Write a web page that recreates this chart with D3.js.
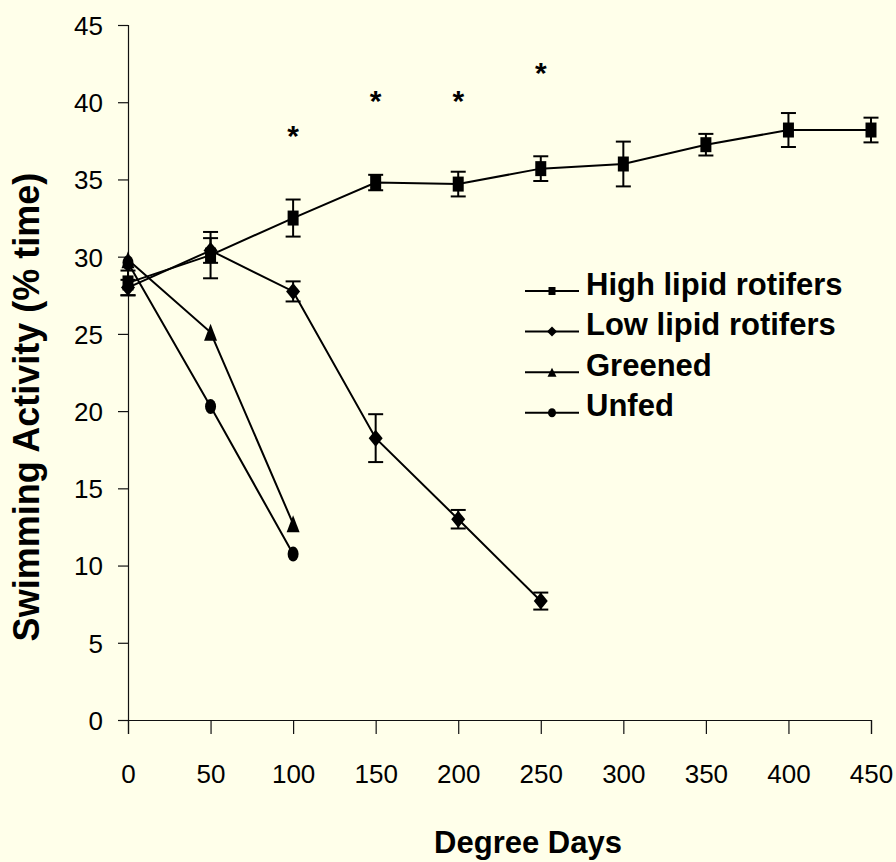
<!DOCTYPE html>
<html>
<head>
<meta charset="utf-8">
<script src="https://cdn.jsdelivr.net/npm/d3@7"></script>
<style>
  html, body { margin: 0; padding: 0; background: #FFFFEA; }
  svg { display: block; }
  text { font-family: Arial, "Liberation Sans", Helvetica, sans-serif; fill: #000; }
</style>
</head>
<body>
<svg id="chart" width="896" height="862"></svg>
<script>
// ---- data ----
const xTickValues = [0, 50, 100, 150, 200, 250, 300, 350, 400, 450];
const yTickValues = [0, 5, 10, 15, 20, 25, 30, 35, 40, 45];

const highDays = [0, 50, 100, 150, 200, 250, 300, 350, 400, 450];
const highLipid = [28.3, 30.1, 32.5, 34.8, 34.7, 35.7, 36.0, 37.25, 38.2, 38.2];
const highLipidErr = [0.8, 1.5, 1.2, 0.5, 0.8, 0.8, 1.45, 0.7, 1.1, 0.8];

const lowDays = [0, 50, 100, 150, 200, 250];
const lowLipid = [28.0, 30.4, 27.75, 18.25, 13.0, 7.7];
const lowLipidErr = [0.5, 0.8, 0.65, 1.55, 0.6, 0.55];

const greenedDays = [0, 50, 100];
const greened = [29.8, 25.1, 12.7];

const unfedDays = [0, 50, 100];
const unfed = [29.6, 20.3, 10.75];

const starDays = [100, 150, 200, 250];
const starLevels = [38.0, 40.3, 40.3, 42.1];

const legendLabels = ["High lipid rotifers", "Low lipid rotifers", "Greened", "Unfed"];
const markerTypes = ["square", "diamond", "triangle", "circle"];

// ---- layout ----
const svg = d3.select("#chart");
const x = d3.scaleLinear().domain([0, 450]).range([128, 871]);
const y = d3.scaleLinear().domain([0, 45]).range([720, 25]);

// axes
const yAxis = d3.axisLeft(y).tickValues(yTickValues).tickSize(10).tickPadding(15);
const gy = svg.append("g").attr("transform", `translate(${x(0)},0)`).call(yAxis);
const xAxis = d3.axisBottom(x).tickValues(xTickValues).tickSize(14).tickPadding(31);
const gx = svg.append("g").attr("transform", `translate(0,${y(0)})`).call(xAxis);
[gx, gy].forEach(g => {
  g.select(".domain").attr("stroke", "#111").attr("stroke-width", 1.2);
  g.selectAll(".tick line").attr("stroke", "#111").attr("stroke-width", 1.2);
  g.selectAll(".tick text").style("font-size", "26px").attr("font-family", "Arial, 'Liberation Sans', sans-serif").attr("fill", "#000");
});
gy.selectAll(".tick text").attr("dy", "0.36em");
gx.selectAll(".tick text").attr("dy", "0.71em");

// axis titles
svg.append("text").attr("x", 528).attr("y", 853).attr("text-anchor", "middle")
  .style("font-size", "31px").style("font-weight", "bold").text("Degree Days");
svg.append("text").attr("transform", "translate(39,407) rotate(-90)").attr("text-anchor", "middle")
  .style("font-size", "36px").style("font-weight", "bold").text("Swimming Activity (% time)");

// marker path generator (w, h)
function markerPath(type, w, h) {
  const a = w / 2, b = h / 2;
  if (type === "square") return `M${-a},${-b}H${a}V${b}H${-a}Z`;
  if (type === "diamond") return `M0,${-b}L${a},0L0,${b}L${-a},0Z`;
  if (type === "triangle") return `M0,${-b}L${a},${b}L${-a},${b}Z`;
  return `M${-a},0A${a},${b} 0 1,0 ${a},0A${a},${b} 0 1,0 ${-a},0Z`;
}

const series = [
  { days: highDays, vals: highLipid, err: highLipidErr, type: "square", w: 11, h: 15 },
  { days: lowDays, vals: lowLipid, err: lowLipidErr, type: "diamond", w: 14, h: 17 },
  { days: greenedDays, vals: greened, err: null, type: "triangle", w: 13, h: 17 },
  { days: unfedDays, vals: unfed, err: null, type: "circle", w: 11, h: 15 }
];

const line = d3.line().x(d => x(d[0])).y(d => y(d[1]));

series.forEach(s => {
  const pts = s.days.map((d, i) => [d, s.vals[i], s.err ? s.err[i] : 0]);
  svg.append("path").datum(pts).attr("d", line)
    .attr("fill", "none").attr("stroke", "#000").attr("stroke-width", 2);
  const g = svg.append("g");
  g.selectAll("path.m").data(pts).enter().append("path").attr("class", "m")
    .attr("transform", d => `translate(${x(d[0])},${y(d[1])})`)
    .attr("d", markerPath(s.type, s.w, s.h)).attr("fill", "#000");
  if (s.err) {
    const eb = svg.append("g").attr("stroke", "#000").attr("stroke-width", 2);
    pts.forEach(d => {
      const cx = x(d[0]), top = y(d[1] + d[2]), bot = y(d[1] - d[2]);
      eb.append("line").attr("x1", cx).attr("x2", cx).attr("y1", top).attr("y2", bot);
      eb.append("line").attr("x1", cx - 7.5).attr("x2", cx + 7.5).attr("y1", top).attr("y2", top);
      eb.append("line").attr("x1", cx - 7.5).attr("x2", cx + 7.5).attr("y1", bot).attr("y2", bot);
    });
  }
});

// significance asterisks
svg.selectAll("text.star").data(starDays.map((d, i) => [d, starLevels[i]])).enter()
  .append("text").attr("class", "star")
  .attr("x", d => x(d[0])).attr("y", d => y(d[1]) + 13)
  .attr("text-anchor", "middle").style("font-size", "30px").style("font-weight", "bold").text("*");

// legend
const legendSizes = [[7, 8], [10, 10], [9, 9], [8, 9]];
const leg = svg.append("g");
legendLabels.forEach((lab, i) => {
  const ly = 291 + i * 40.6;
  leg.append("line").attr("x1", 525).attr("x2", 579).attr("y1", ly).attr("y2", ly)
    .attr("stroke", "#000").attr("stroke-width", 2);
  leg.append("path").attr("transform", `translate(552,${ly})`)
    .attr("d", markerPath(markerTypes[i], legendSizes[i][0], legendSizes[i][1])).attr("fill", "#000");
  leg.append("text").attr("x", 586).attr("y", ly + 3.5)
    .style("font-size", "31px").style("font-weight", "bold").text(lab);
});
</script>
</body>
</html>
